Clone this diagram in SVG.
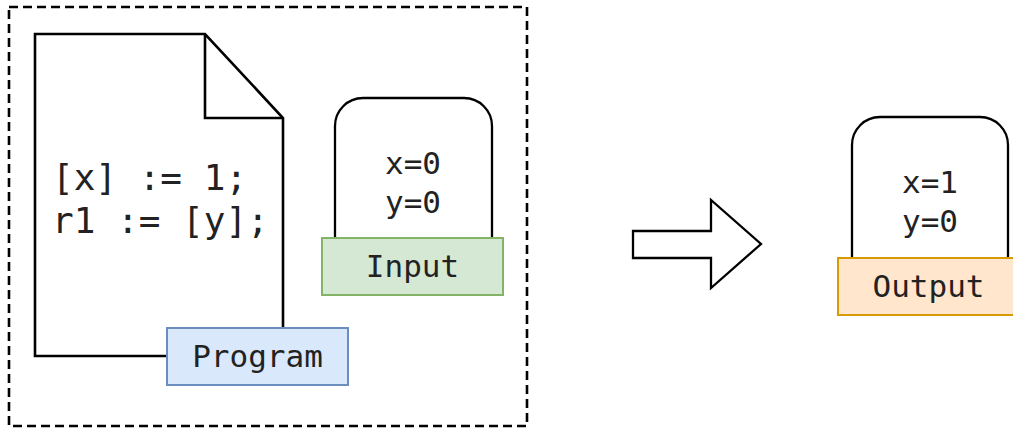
<svg xmlns="http://www.w3.org/2000/svg" width="1013" height="428" viewBox="0 0 1013 428">
  <style>
    .line { fill: none; stroke: #000; stroke-width: 2.6; stroke-linejoin: miter; }
    .reg { fill: #fff; stroke: #000; stroke-width: 2.3; }
    .mono { font-family: "DejaVu Sans Mono", "Liberation Mono", monospace; fill: #222; }
    .code { font-size: 36px; }
    .val { font-size: 31px; text-anchor: middle; }
    .lbl { font-size: 31px; text-anchor: middle; }
  </style>
  <rect width="1013" height="428" fill="#fff"/>

  <!-- dashed frame around program + input -->
  <g id="frame">
    <rect x="9" y="7" width="518" height="419" fill="none" stroke="#000" stroke-width="2.6" stroke-dasharray="9 5"/>
  </g>

  <!-- program document with folded corner -->
  <g id="program">
    <path class="line" d="M167,356 H35 V34 H205 L283,118 V328"/>
    <path class="line" d="M205,34 V118 H283"/>
    <text class="mono code" x="52" y="190">[x] := 1;</text>
    <text class="mono code" x="52" y="233">r1 := [y];</text>
    <rect x="167" y="328" width="181" height="57" fill="#dae8fc" stroke="#6c8ebf" stroke-width="2"/>
    <text class="mono lbl" x="257.5" y="367">Program</text>
  </g>

  <!-- input memory state -->
  <g id="input">
    <path class="reg" d="M335,238 V126 A28,28 0 0 1 363,98 H464 A28,28 0 0 1 492,126 V238"/>
    <text class="mono val" x="413" y="174">x=0</text>
    <text class="mono val" x="413" y="213">y=0</text>
    <rect x="322" y="238" width="181" height="57" fill="#d5e8d4" stroke="#82b366" stroke-width="2"/>
    <text class="mono lbl" x="412.5" y="277">Input</text>
  </g>

  <!-- transition arrow -->
  <g id="connectors">
    <path d="M633,231 H711 V200 L761,244 L711,288 V258 H633 Z" fill="#fff" stroke="#000" stroke-width="2.3" stroke-linejoin="miter"/>
  </g>

  <!-- output memory state -->
  <g id="output">
    <path class="reg" d="M852,258 V145 A28,28 0 0 1 880,117 H980 A28,28 0 0 1 1008,145 V258"/>
    <text class="mono val" x="930" y="193">x=1</text>
    <text class="mono val" x="930" y="232">y=0</text>
    <rect x="838" y="258" width="181" height="57" fill="#ffe6cc" stroke="#d79b00" stroke-width="2"/>
    <text class="mono lbl" x="928.5" y="297">Output</text>
  </g>
</svg>
